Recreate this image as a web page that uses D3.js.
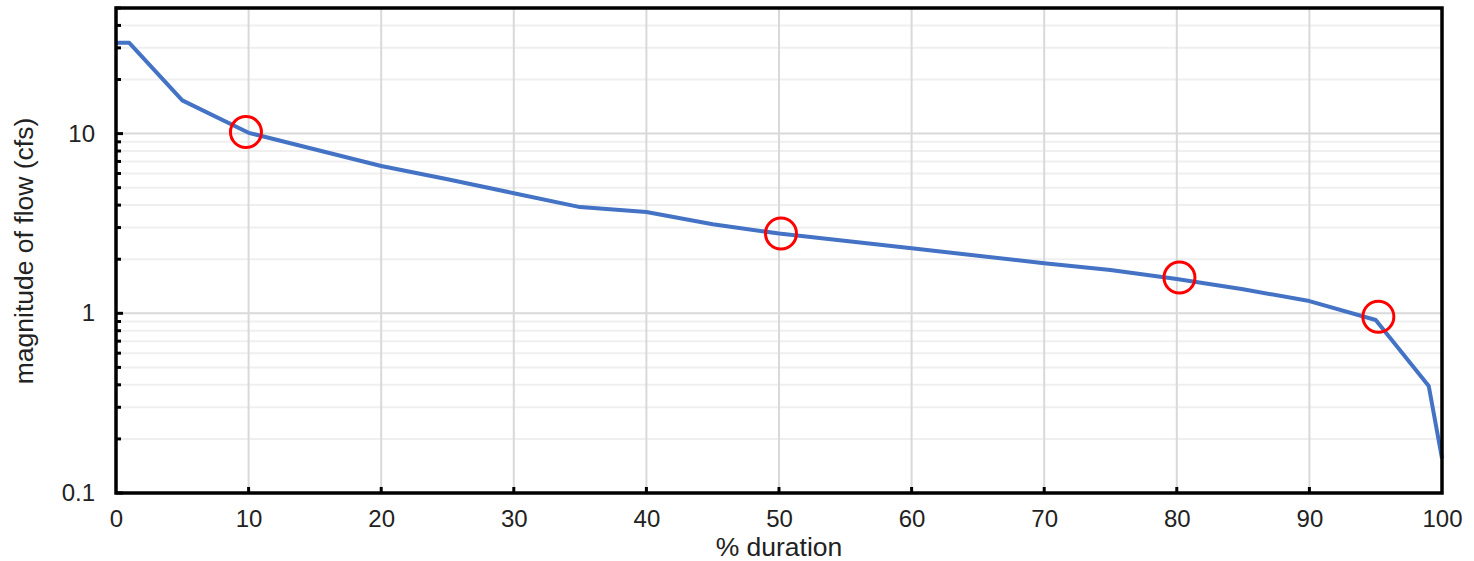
<!DOCTYPE html>
<html>
<head>
<meta charset="utf-8">
<script src="https://cdn.jsdelivr.net/npm/d3@7"></script>
<style>
  body { margin: 0; background: #fff; }
  text { font-family: "Liberation Sans", Arial, sans-serif; fill: #222; }
</style>
</head>
<body>
<svg id="chart" width="1474" height="561"></svg>
<script>
// flow duration curve
const duration = [0, 1, 5, 10, 20, 25, 30, 35, 40, 45, 50, 60, 70, 75, 80, 85, 90, 95, 99, 100];
const flow = [32, 32, 15.3, 10.1, 6.6, 5.57, 4.66, 3.9, 3.66, 3.13, 2.78, 2.3, 1.9, 1.74, 1.55, 1.36, 1.17, 0.918, 0.394, 0.156];

// highlighted points
const markX = [9.8, 50.15, 80.2, 95.2];
const markY = [10.2, 2.78, 1.58, 0.957];

const xTicks = [0, 10, 20, 30, 40, 50, 60, 70, 80, 90, 100];
const yTicks = [0.1, 1, 10];

const margin = { left: 116, right: 32, top: 8, bottom: 68 };
const W = 1474, H = 561;
const tickFs = 24, titleFs = 26.5;

const svg = d3.select('#chart');

const x = d3.scaleLinear().domain([0, 100]).range([margin.left, W - margin.right]);
const y = d3.scaleLog().domain([0.1, 50]).range([H - margin.bottom, margin.top]);

// minor values for log grid
const minor = [];
[0.1, 1, 10].forEach(d => {
  for (let k = 2; k <= 9; k++) {
    const v = d * k;
    if (v <= 50) minor.push(v);
  }
});

const grid = svg.append('g');
grid.selectAll('line.minor')
  .data(minor)
  .join('line')
  .attr('x1', x(0)).attr('x2', x(100))
  .attr('y1', d => y(d)).attr('y2', d => y(d))
  .attr('stroke', '#efefef').attr('stroke-width', 2);

grid.selectAll('line.major')
  .data([1, 10])
  .join('line')
  .attr('x1', x(0)).attr('x2', x(100))
  .attr('y1', d => y(d)).attr('y2', d => y(d))
  .attr('stroke', '#d9d9d9').attr('stroke-width', 2);

grid.selectAll('line.vert')
  .data(xTicks.slice(1, -1))
  .join('line')
  .attr('x1', d => x(d)).attr('x2', d => x(d))
  .attr('y1', y(0.1)).attr('y2', y(50))
  .attr('stroke', '#d9d9d9').attr('stroke-width', 2);

// curve
const line = d3.line()
  .x((d, i) => x(duration[i]))
  .y(d => y(d));

svg.append('path')
  .datum(flow)
  .attr('d', line)
  .attr('fill', 'none')
  .attr('stroke', '#4472C4')
  .attr('stroke-width', 4)
  .attr('stroke-linejoin', 'round');

// red circles
svg.selectAll('circle.mark')
  .data(markX)
  .join('circle')
  .attr('cx', d => x(d))
  .attr('cy', (d, i) => y(markY[i]))
  .attr('r', 15.5)
  .attr('fill', 'none')
  .attr('stroke', '#ff0000')
  .attr('stroke-width', 3);

// axes
const xAxis = d3.axisBottom(x).tickValues(xTicks).tickSize(0).tickPadding(17);
const gx = svg.append('g')
  .attr('transform', `translate(0,${y(0.1)})`)
  .call(xAxis);
gx.select('.domain').remove();
gx.selectAll('text').style('font-size', tickFs + 'px').style('fill', '#222');

const yAxis = d3.axisLeft(y).tickValues(yTicks).tickFormat(d3.format('')).tickSize(0).tickPadding(21);
const gy = svg.append('g')
  .attr('transform', `translate(${x(0)},0)`)
  .call(yAxis);
gy.select('.domain').remove();
gy.selectAll('text').style('font-size', tickFs + 'px').style('fill', '#222');

// tick marks pointing inward
svg.append('g').selectAll('line')
  .data(xTicks.slice(1, -1))
  .join('line')
  .attr('x1', d => x(d)).attr('x2', d => x(d))
  .attr('y1', y(0.1)).attr('y2', y(0.1) - 6)
  .attr('stroke', '#000').attr('stroke-width', 3);

svg.append('g').selectAll('line')
  .data(minor)
  .join('line')
  .attr('x1', x(0)).attr('x2', x(0) + 5)
  .attr('y1', d => y(d)).attr('y2', d => y(d))
  .attr('stroke', '#000').attr('stroke-width', 3);

svg.append('g').selectAll('line')
  .data(yTicks)
  .join('line')
  .attr('x1', x(0)).attr('x2', x(0) + 7)
  .attr('y1', d => y(d)).attr('y2', d => y(d))
  .attr('stroke', '#000').attr('stroke-width', 3);

// frame
svg.append('rect')
  .attr('x', x(0)).attr('y', y(50))
  .attr('width', x(100) - x(0))
  .attr('height', y(0.1) - y(50))
  .attr('fill', 'none')
  .attr('stroke', '#000')
  .attr('stroke-width', 3.5);

// axis titles
svg.append('text')
  .attr('x', (x(0) + x(100)) / 2)
  .attr('y', 556)
  .attr('text-anchor', 'middle')
  .style('font-size', titleFs + 'px')
  .text('% duration');

svg.append('text')
  .attr('transform', 'translate(33,251) rotate(-90)')
  .attr('text-anchor', 'middle')
  .style('font-size', titleFs + 'px')
  .text('magnitude of flow (cfs)');
</script>
</body>
</html>
